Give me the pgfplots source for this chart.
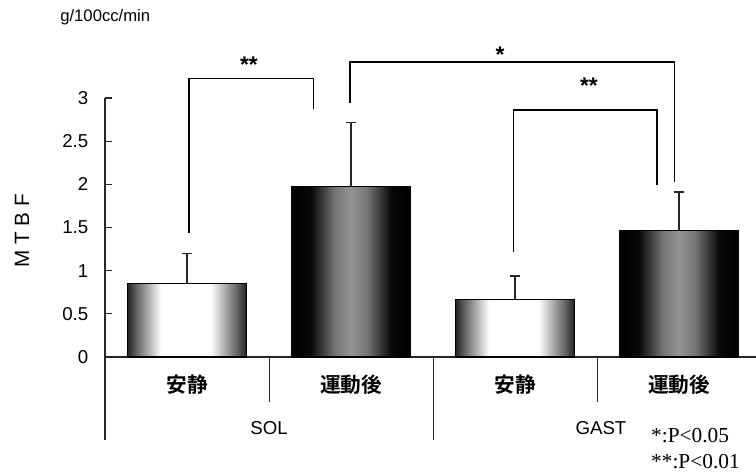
\documentclass[border=0pt]{standalone}
\usepackage{pgfplots}
\pgfplotsset{compat=1.18}
\usepackage{pgfplotstable}
\usepackage{fontspec}
\setmainfont{Liberation Sans}
\newfontfamily\cjk{Noto Sans CJK JP}[BoldFont={Noto Sans CJK JP Bold}]
\newfontfamily\tms{Liberation Serif}

% shaded bar fills (the path is mapped onto 25bp..75bp of the shading)
\pgfdeclarehorizontalshading{restbar}{100bp}{color(0bp)=(black!85); color(25bp)=(black!85); color(28bp)=(black!65); color(39bp)=(white); color(60bp)=(white); color(71bp)=(black!60); color(75bp)=(black!85); color(100bp)=(black!85)}
\pgfdeclarehorizontalshading{exbar}{100bp}{color(0bp)=(black); color(25bp)=(black); color(33bp)=(black!97); color(43bp)=(black!55); color(50bp)=(black!42); color(57bp)=(black!55); color(67bp)=(black!97); color(75bp)=(black); color(100bp)=(black)}

% mean and SD: SOL rest, SOL post, GAST rest, GAST post
\pgfplotstableread{
x y e
0 0.85 0.35
1 1.97 0.75
2 0.67 0.27
3 1.46 0.45
}\mtbf

\begin{document}
\begin{tikzpicture}
\path[use as bounding box] (-78.75pt,-88.5pt) rectangle (488.25pt,267.75pt);
\begin{axis}[
  scale only axis, width=492pt, height=194.25pt,
  xmin=-0.5, xmax=3.5, ymin=0, ymax=3,
  axis x line=bottom, axis y line=left,
  axis line style={black!85, line width=0.8pt, -},
  clip=false,
  ytick={0,0.5,1,1.5,2,2.5,3},
  tick align=inside, major tick length=5.25pt,
  ytick style={black!85, line width=0.8pt},
  xtick={0,1,2,3}, xticklabels={安静,運動後,安静,運動後},
  xtick style={draw=none},
  xticklabel style={font=\cjk\bfseries\fontsize{15.5}{18}\selectfont, anchor=center, yshift=-21pt},
  yticklabel style={font=\fontsize{14}{16}\selectfont, xshift=-9pt},
  /pgf/number format/assume math mode=true,
  bar/.style={ybar, bar width=0.72, bar shift=0pt, draw=black, line width=0.8pt, forget plot},
]
% one plot per bar so each bar gets its own shading
\addplot[bar, shading=restbar] table[x=x, y=y, skip coords between index={1}{4}]{\mtbf};
\addplot[bar, shading=exbar]   table[x=x, y=y, skip coords between index={0}{1}, skip coords between index={2}{4}]{\mtbf};
\addplot[bar, shading=restbar] table[x=x, y=y, skip coords between index={0}{2}, skip coords between index={3}{4}]{\mtbf};
\addplot[bar, shading=exbar]   table[x=x, y=y, skip coords between index={0}{3}]{\mtbf};
% standard deviations
\addplot[draw=none, no markers, forget plot,
  error bars/.cd, y dir=plus, y explicit,
  error bar style={line width=1pt, black!85},
  error mark options={rotate=90, mark size=3.75pt, line width=1pt, black!85}]
  table[x=x, y=y, y error=e]{\mtbf};

% category separators below the axis
\draw[black!85, line width=0.8pt] (axis cs:-0.5,0) -- (axis cs:-0.5,-0.961);
\draw[black!85, line width=0.6pt] (axis cs:0.5,0) -- (axis cs:0.5,-0.521);
\draw[black!85, line width=0.6pt] (axis cs:1.5,0) -- (axis cs:1.5,-0.961);
\draw[black!85, line width=0.6pt] (axis cs:2.5,0) -- (axis cs:2.5,-0.521);
\node[font=\fontsize{14}{16}\selectfont] at (axis cs:0.5,-0.822) {SOL};
\node[font=\fontsize{14}{16}\selectfont] at (axis cs:2.524,-0.822) {GAST};
\node[font=\tms\fontsize{16}{18}\selectfont, anchor=west, inner sep=0pt] at (axis cs:2.829,-0.915) {*:P<0.05};
\node[font=\tms\fontsize{16}{18}\selectfont, anchor=west, inner sep=0pt] at (axis cs:2.829,-1.216) {**:P<0.01};

% axis titles
\node[font=\fontsize{12.5}{15}\selectfont, anchor=west, inner sep=0pt] at (axis cs:-0.774,3.938) {g/100cc/min};
\node[font=\fontsize{15.5}{18}\selectfont, rotate=90] at (axis cs:-1.006,1.46) {M T B F};

% significance brackets
\draw[black, line width=0.8pt] (axis cs:0.012,1.436) |- (axis cs:0.774,3.23) -- (axis cs:0.774,2.873);
\draw[black, line width=0.8pt] (axis cs:0.994,2.942) |- (axis cs:2.97,3.417) -- (axis cs:2.97,2.027);
\draw[black, line width=0.8pt] (axis cs:1.988,1.216) |- (axis cs:2.866,2.861) -- (axis cs:2.866,1.992);
\node[font=\bfseries\fontsize{17}{19}\selectfont] at (axis cs:0.378,3.38) {**};
\node[font=\bfseries\fontsize{17}{19}\selectfont] at (axis cs:1.909,3.50) {*};
\node[font=\bfseries\fontsize{17}{19}\selectfont] at (axis cs:2.451,3.14) {**};
\end{axis}
\end{tikzpicture}
\end{document}
